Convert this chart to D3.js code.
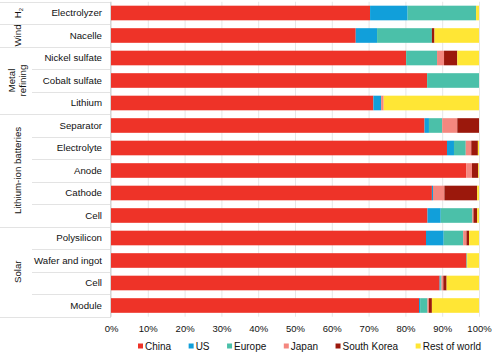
<!DOCTYPE html>
<html>
<head>
<meta charset="utf-8">
<script src="https://cdn.jsdelivr.net/npm/d3@7"></script>
<style>
  html, body { margin: 0; padding: 0; background: #fff; }
  svg { display: block; font-family: "Liberation Sans", Arial, Helvetica, sans-serif; }
</style>
</head>
<body>
<svg id="chart" width="500" height="355"></svg>
<script>
// ---------- data ----------
const categories = ["Electrolyzer", "Nacelle", "Nickel sulfate", "Cobalt sulfate", "Lithium",
  "Separator", "Electrolyte", "Anode", "Cathode", "Cell",
  "Polysilicon", "Wafer and ingot", "Cell", "Module"];
const groupLabels = [["H₂"], ["Wind"], ["Metal", "refining"], ["Lithium-ion batteries"], ["Solar"]];
const groupSizes = [1, 1, 3, 5, 4];
const seriesNames = ["China", "US", "Europe", "Japan", "South Korea", "Rest of world"];
const china       = [70.4, 66.5, 80.2, 85.9, 71.3, 85.2, 91.3, 96.5, 87.2, 86.0, 85.6, 96.6, 89.3, 83.7];
const us          = [10.2,  5.8,  0.0,  0.0,  2.1,  1.2,  1.9,  0.0,  0.3,  3.6,  4.8,  0.0,  0.2,  0.3];
const europe      = [18.6, 14.9,  8.4, 14.1,  0.0,  3.6,  3.2,  0.0,  0.0,  8.6,  5.3,  0.2,  0.3,  2.0];
const japan       = [ 0.0,  0.0,  1.9,  0.0,  0.7,  4.1,  1.5,  1.6,  3.1,  0.3,  0.9,  0.0,  0.5,  0.4];
const southKorea  = [ 0.0,  0.7,  3.6,  0.0,  0.0,  5.9,  1.8,  1.7,  8.9,  1.0,  0.7,  0.0,  0.9,  0.8];
const restOfWorld = [ 0.8, 12.1,  5.9,  0.0, 25.9,  0.0,  0.3,  0.2,  0.5,  0.5,  2.7,  3.2,  8.8, 12.8];
const xTicks = [0, 10, 20, 30, 40, 50, 60, 70, 80, 90, 100];
const colors = ["#ee3328", "#119fda", "#4bc0a9", "#f4877f", "#9b180c", "#ffe635"];

// ---------- build ----------
(function () {
const seriesValues = [china, us, europe, japan, southKorea, restOfWorld];
const rows = categories.map((c, i) => {
  const r = { idx: i, name: c };
  seriesNames.forEach((s, j) => r[s] = seriesValues[j][i]);
  return r;
});
const stacked = d3.stack().keys(seriesNames)(rows);

const svg = d3.select("#chart");
const x = d3.scaleLinear().domain([0, 100]).range([111, 479]);
const y = d3.scaleBand().domain(d3.range(categories.length))
  .range([1.75, 316.75]).paddingInner(0.35).paddingOuter(0.175);
const color = d3.scaleOrdinal().domain(seriesNames).range(colors);

const y0 = y.range()[0], y1 = y.range()[1];
const step = y.step();

// gridlines
svg.append("g").selectAll("line").data(xTicks).join("line")
  .attr("x1", d => x(d) + 0.5).attr("x2", d => x(d) + 0.5)
  .attr("y1", y0).attr("y2", y1)
  .attr("stroke", "#e6e6e6").attr("stroke-width", 1);

// bars
svg.append("g").selectAll("g").data(stacked).join("g")
  .attr("fill", d => color(d.key))
  .selectAll("rect").data(d => d).join("rect")
  .attr("x", d => x(d[0]))
  .attr("width", d => Math.max(0, x(d[1]) - x(d[0])))
  .attr("y", d => y(d.data.idx))
  .attr("height", y.bandwidth());

// label table
const tbl = svg.append("g");
const labelColX = 32;
let start = 0;
const groupStarts = groupSizes.map(n => { const s = start; start += n; return s; });

for (let i = 0; i <= categories.length; i++) {
  const yy = Math.round(y0 + i * step) + 0.5;
  const isGroupBoundary = i === 0 || i === categories.length || groupStarts.includes(i);
  tbl.append("line")
    .attr("x1", isGroupBoundary ? 0 : labelColX).attr("x2", 110)
    .attr("y1", yy).attr("y2", yy)
    .attr("stroke", "#e3e3e3").attr("stroke-width", 1);
}
tbl.append("line").attr("x1", 110.5).attr("x2", 110.5).attr("y1", y0).attr("y2", y1 + 1)
  .attr("stroke", "#d6d6d6");

// row labels
tbl.selectAll("text.row").data(categories).join("text")
  .attr("class", "row")
  .attr("x", 102)
  .attr("y", (d, i) => y(i) + y.bandwidth() / 2)
  .attr("dy", "0.35em")
  .attr("text-anchor", "end")
  .attr("font-size", "9.7px")
  .attr("fill", "#111")
  .text(d => d);

// group labels (rotated)
groupLabels.forEach((lines, g) => {
  const s = groupStarts[g], n = groupSizes[g];
  const cy = y0 + (s + n / 2) * step;
  const lh = 10.5;
  lines.forEach((ln, k) => {
    const bx = 21 - (lines.length - 1 - k) * lh + (lines.length > 1 ? 4.5 : 0);
    const t = tbl.append("text")
      .attr("transform", `translate(${bx},${cy}) rotate(-90)`)
      .attr("text-anchor", "middle")
      .attr("font-size", "9.7px")
      .attr("fill", "#111");
    if (ln === "H₂") {
      t.append("tspan").text("H");
      t.append("tspan").attr("font-size", "6px").attr("dy", "2").text("2");
    } else {
      t.text(ln);
    }
  });
});

// x axis
const axis = svg.append("g")
  .attr("transform", `translate(0,${y1})`)
  .call(d3.axisBottom(x).tickValues(xTicks).tickFormat(d => d + "%").tickSize(0).tickPadding(8.5));
axis.select(".domain").remove();
axis.selectAll("text").attr("font-size", "9.5px").attr("fill", "#111")
  .attr("font-family", "'Liberation Sans', Arial, sans-serif");

// legend
const legend = svg.append("g").attr("transform", "translate(138,346)");
let lx = 0;
seriesNames.forEach((s, i) => {
  const g = legend.append("g").attr("transform", `translate(${lx},0)`);
  g.append("rect").attr("x", 0).attr("y", -2.5).attr("width", 5).attr("height", 5).attr("fill", colors[i]);
  const t = g.append("text").attr("x", 7).attr("y", 0).attr("dy", "0.35em")
    .attr("font-size", "10px").attr("fill", "#111").text(s);
  lx += 7 + t.node().getComputedTextLength() + 17.5;
});
})();
</script>
</body>
</html>
